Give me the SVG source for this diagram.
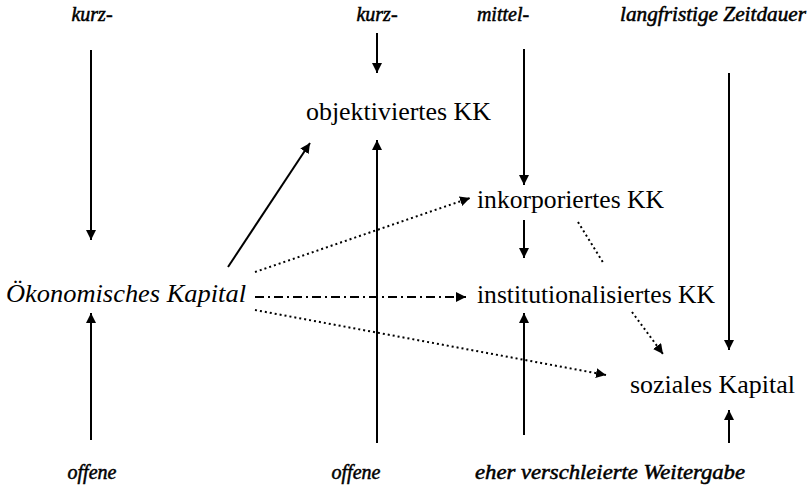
<svg xmlns="http://www.w3.org/2000/svg" width="810" height="487" viewBox="0 0 810 487">
<defs>
<marker id="ah" markerUnits="userSpaceOnUse" markerWidth="12" markerHeight="10" refX="10" refY="5" orient="auto">
<path d="M0,0 L10,5 L0,10 Z" fill="#000"/>
</marker>
<style>
.ln{stroke:#000;stroke-width:2;fill:none}
.arr{marker-end:url(#ah)}
.dot{stroke-dasharray:2 3}
.dd{stroke-dasharray:9 4 2 4}
.lb{stroke:#000;stroke-width:0.5}
</style>
</defs>
<rect width="810" height="487" fill="#fff"/>
<g id="labels">
<text class="lb" font-family="'Liberation Serif', serif" font-style="italic" font-size="20" x="92" y="21" text-anchor="middle">kurz-</text>
<text class="lb" font-family="'Liberation Serif', serif" font-style="italic" font-size="20" x="377" y="21" text-anchor="middle">kurz-</text>
<text class="lb" font-family="'Liberation Serif', serif" font-style="italic" font-size="20" x="503" y="21" text-anchor="middle">mittel-</text>
<text class="lb" font-family="'Liberation Serif', serif" font-style="italic" font-size="20" x="620" y="21" textLength="186" lengthAdjust="spacingAndGlyphs">langfristige Zeitdauer</text>
<text class="lb" font-family="'Liberation Serif', serif" font-style="italic" font-size="20" x="92" y="479" text-anchor="middle">offene</text>
<text class="lb" font-family="'Liberation Serif', serif" font-style="italic" font-size="20" x="356" y="479" text-anchor="middle">offene</text>
<text class="lb" font-family="'Liberation Serif', serif" font-style="italic" font-size="20" x="475" y="479" textLength="270" lengthAdjust="spacingAndGlyphs">eher verschleierte Weitergabe</text>
</g>
<g id="oekonomisches"><text font-family="'Liberation Serif', serif" font-size="25" font-style="italic" x="6" y="302" textLength="240" lengthAdjust="spacingAndGlyphs">Ökonomisches Kapital</text></g>
<g id="objektiviertes"><text font-family="'Liberation Serif', serif" font-size="25" x="306" y="120" textLength="185" lengthAdjust="spacingAndGlyphs">objektiviertes KK</text></g>
<g id="inkorporiertes"><text font-family="'Liberation Serif', serif" font-size="25" x="477" y="208" textLength="187" lengthAdjust="spacingAndGlyphs">inkorporiertes KK</text></g>
<g id="institutionalisiertes"><text font-family="'Liberation Serif', serif" font-size="25" x="477" y="303" textLength="238" lengthAdjust="spacingAndGlyphs">institutionalisiertes KK</text></g>
<g id="soziales"><text font-family="'Liberation Serif', serif" font-size="25" x="630" y="393" textLength="165" lengthAdjust="spacingAndGlyphs">soziales Kapital</text></g>
<g id="connectors">
<line class="ln arr" x1="91" y1="50" x2="91" y2="240"/>
<line class="ln arr" x1="377" y1="33" x2="377" y2="73"/>
<line class="ln arr" x1="524" y1="49" x2="524" y2="185"/>
<line class="ln arr" x1="729" y1="73" x2="729" y2="350"/>
<line class="ln arr" x1="377" y1="443" x2="377" y2="140"/>
<line class="ln arr" x1="228" y1="267" x2="310" y2="143"/>
<line class="ln arr dot" x1="255" y1="272" x2="470" y2="198"/>
<line class="ln arr" x1="524" y1="220" x2="524" y2="258"/>
<line class="ln dot" x1="578" y1="222" x2="604" y2="264"/>
<line class="ln arr dot" x1="632" y1="312" x2="663" y2="354"/>
<line class="ln arr dd" x1="255" y1="297" x2="466" y2="297"/>
<line class="ln arr dot" x1="255" y1="310" x2="606" y2="375"/>
<line class="ln arr" x1="91" y1="440" x2="91" y2="313"/>
<line class="ln arr" x1="524" y1="435" x2="524" y2="313"/>
<line class="ln arr" x1="729" y1="443" x2="729" y2="410"/>
</g>
</svg>
